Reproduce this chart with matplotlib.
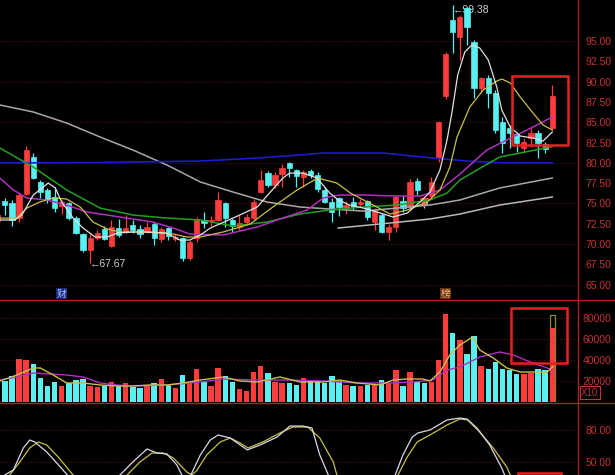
import matplotlib
matplotlib.use('Agg')
import matplotlib.pyplot as plt
from matplotlib.lines import Line2D
from matplotlib.patches import Rectangle

# ---------------- data ----------------
opens = [72.8, 75.3, 75.05, 73.2, 76.15, 80.7, 77.6, 76.65, 75.8, 74.7,
         75.05, 73.2, 71.2, 69.25, 70.7, 71.85, 69.75, 72.0, 71.5, 72.35,
         71.85, 71.5, 72.45, 70.6, 72.0, 70.6, 70.7, 68.3, 70.8, 72.9,
         72.8, 72.95, 75.05, 72.95, 72.05, 72.7, 73.2, 76.4, 78.75, 77.25,
         78.6, 80.0, 79.1, 78.25, 79.0, 78.5, 76.65, 75.2, 75.65, 74.45,
         75.2, 74.95, 75.3, 72.7, 73.55, 71.5, 72.1, 75.3, 74.55, 77.75,
         75.4, 75.9, 80.6, 88.2, 97.6, 95.5, 99.05, 94.9, 89.2, 90.45,
         88.6, 85.0, 84.3, 83.55, 81.8, 83.05, 83.65, 82.3, 84.3]
highs = [74.0, 75.7, 75.4, 76.3, 82.1, 81.2, 77.9, 76.9, 77.0, 75.4,
         75.2, 73.45, 71.35, 71.2, 71.7, 72.2, 73.0, 73.1, 73.6, 72.95,
         72.35, 72.7, 72.7, 72.1, 72.1, 71.2, 70.85, 70.5, 73.3, 73.95,
         73.4, 76.4, 75.2, 73.2, 73.6, 73.7, 75.6, 79.1, 79.0, 78.9,
         79.9, 80.1, 79.3, 79.1, 79.3, 78.9, 77.0, 75.7, 75.8, 75.3,
         75.8, 75.6, 75.4, 74.45, 73.8, 72.45, 76.0, 76.0, 78.0, 78.1,
         75.6, 78.25, 85.1, 93.6, 99.38, 98.2, 99.2, 95.1, 90.6, 90.8,
         89.0, 85.6, 84.65, 83.8, 82.9, 84.4, 84.05, 82.55, 89.6]
lows = [72.5, 73.6, 72.2, 72.7, 76.0, 78.0, 75.7, 75.05, 73.9, 73.7,
        72.95, 71.2, 69.0, 67.67, 70.5, 70.5, 69.6, 70.85, 71.35, 71.35,
        70.7, 71.35, 69.9, 70.25, 70.5, 70.35, 67.9, 68.05, 70.3, 72.0,
        72.2, 72.8, 72.1, 71.5, 71.7, 72.5, 72.95, 76.3, 77.0, 76.9,
        77.0, 78.2, 77.0, 77.0, 78.1, 76.4, 75.05, 72.7, 73.45, 73.7,
        74.2, 74.6, 72.9, 71.7, 71.35, 70.5, 71.5, 73.9, 74.3, 76.0,
        74.4, 75.65, 80.1, 87.9, 93.5, 92.65, 94.5, 88.0, 88.7, 86.75,
        83.7, 81.2, 81.8, 81.3, 81.35, 82.0, 80.6, 81.2, 84.05]
closes = [73.6, 74.8, 72.95, 76.0, 81.6, 78.1, 76.4, 75.5, 74.45, 75.2,
          73.2, 71.35, 69.25, 70.7, 71.35, 70.6, 72.1, 71.1, 72.0, 71.7,
          71.2, 72.1, 70.7, 71.85, 71.0, 70.85, 68.3, 70.25, 73.1, 72.6,
          73.0, 75.4, 73.2, 72.2, 72.6, 73.3, 75.2, 77.9, 77.25, 78.5,
          79.4, 79.35, 78.4, 78.9, 78.5, 76.8, 75.2, 73.95, 74.55, 74.8,
          74.6, 75.15, 73.3, 74.2, 71.5, 72.1, 75.8, 74.45, 77.6, 76.65,
          74.9, 77.6, 85.0, 93.4, 96.1, 97.95, 96.7, 89.2, 90.45, 88.6,
          84.0, 82.45, 83.65, 82.45, 82.55, 83.65, 82.45, 81.7, 88.2]
volumes = [22966, 20095, 24880, 41148, 40191, 36363, 22966, 15311, 19138, 15311,
           18182, 21052, 22009, 15311, 14354, 15311, 19138, 15311, 18182, 14354,
           13397, 15311, 18182, 22009, 16268, 13397, 25837, 18182, 31578, 19138,
           15311, 32535, 24880, 19138, 12440, 10526, 28707, 34448, 27750, 19138,
           18182, 18182, 16268, 22966, 21052, 20095, 18182, 24880, 20095, 16268,
           15311, 15311, 16268, 16268, 21052, 18182, 30621, 15311, 28707, 19138,
           18182, 19138, 40191, 84207, 66026, 59328, 45931, 63155, 34448, 31578,
           38276, 31578, 30621, 26793, 26793, 27750, 31578, 30621, 70813]
last_vol_projected = 83250

# moving averages of price (x = candle index, y = price)
ma5_x = [0.3, 2.4, 3.4, 5.0, 7.1, 8.1, 9.0, 10.6, 12.0, 13.7, 15.4, 16.8, 19.0, 21.4,
         23.8, 25.6, 27.0, 28.5, 29.9, 33.1, 36.5, 38.6, 40.1, 41.1, 42.9, 44.9,
         46.7, 47.9, 49.5, 51.4, 53.8, 55.6, 57.6, 59.4, 60.8, 62.2, 63.2, 63.9,
         64.7, 65.7, 66.7, 67.8, 69.0, 70.2, 70.9, 72.1, 73.5, 75.3, 76.7, 78.0]
ma5_y = [72.96, 72.96, 73.57, 76.03, 77.51, 76.90, 75.17, 73.20, 71.97, 70.86, 70.86,
         71.35, 71.48, 71.48, 71.35, 70.49, 70.49, 71.11, 71.97, 73.20, 74.56, 76.65,
         78.13, 78.74, 78.74, 78.13, 76.28, 75.42, 74.80, 74.43, 73.82, 73.33, 73.82,
         75.17, 76.40, 79.11, 82.81, 86.26, 90.81, 93.65, 94.51, 94.14, 92.66, 89.33,
         86.50, 84.41, 83.30, 83.05, 82.68, 83.79]
ma10_x = [0.3, 2.7, 4.1, 5.9, 7.8, 9.7, 11.6, 13.4, 15.4, 17.2, 20.0, 22.8, 24.7,
          26.6, 28.5, 31.7, 35.5, 38.7, 42.1, 45.0, 47.7, 49.6, 52.8, 55.2, 57.6,
          60.4, 62.2, 63.6, 64.6, 66.4, 68.3, 70.2, 70.9, 72.1, 73.5, 75.3, 76.7, 78.0]
ma10_y = [73.20, 73.20, 74.43, 75.17, 75.67, 75.54, 74.56, 72.71, 71.85, 71.48, 71.48,
          71.35, 71.23, 70.86, 70.86, 71.48, 72.46, 74.56, 76.65, 78.13, 77.51, 76.28,
          74.80, 73.69, 74.19, 75.17, 76.65, 79.48, 83.18, 86.87, 88.97, 90.07, 90.32,
          89.83, 88.10, 86.13, 84.66, 84.04]
ma20_x = [0.3, 2.2, 4.1, 6.9, 9.7, 12.6, 15.4, 19.0, 21.8, 24.7, 27.0, 31.7, 36.5,
          40.1, 43.5, 45.8, 48.1, 51.4, 56.2, 59.4, 62.2, 65.0, 68.8, 71.6, 75.3, 78.0]
ma20_y = [78.13, 76.65, 75.67, 75.42, 74.80, 73.94, 73.57, 73.08, 72.71, 71.97, 71.23,
          71.11, 72.09, 73.20, 74.19, 75.67, 76.03, 76.03, 75.91, 75.91, 76.65, 78.60,
          81.58, 82.81, 84.41, 85.64]
ma30_x = [0.3, 5.0, 9.7, 14.4, 19.0, 23.8, 28.5, 33.1, 37.9, 42.5, 46.7, 51.4, 56.2,
          60.8, 63.2, 65.0, 67.4, 70.6, 73.5, 76.3, 78.0]
ma30_y = [81.82, 79.48, 76.65, 74.43, 73.57, 73.20, 72.96, 72.22, 72.71, 73.69, 74.19,
          74.56, 74.80, 75.42, 76.28, 77.88, 79.11, 80.71, 81.21, 81.70, 82.00]
ma60_x = [0.3, 5.0, 9.7, 14.4, 19.0, 23.8, 28.5, 33.1, 37.9, 42.5, 46.7, 51.4, 56.2,
          60.8, 65.0, 70.6, 78.0]
ma60_y = [87.12, 86.26, 84.90, 83.18, 81.58, 79.73, 77.64, 76.40, 75.17, 74.56, 74.31,
          74.06, 74.43, 74.80, 75.42, 76.90, 78.13]
ma120_x = [0.3, 14.4, 28.5, 36.5, 42.5, 45.8, 54.2, 61.2, 66.0, 71.6, 78.0]
ma120_y = [79.98, 80.04, 80.22, 80.59, 80.96, 81.21, 81.21, 80.59, 80.22, 79.98, 79.98]
ma250_x = [47.9, 55.2, 60.8, 65.0, 70.6, 78.0]
ma250_y = [71.97, 72.59, 73.08, 73.69, 74.80, 75.79]

# volume moving averages
vma5_x = [0.3, 2.7, 5.0, 6.0, 7.8, 9.7, 12.0, 14.4, 16.8, 19.0, 21.4, 23.8, 26.1, 28.5,
          31.7, 34.1, 36.5, 39.7, 42.5, 45.8, 48.1, 50.5, 53.8, 55.6, 57.6, 59.8, 60.8,
          62.2, 63.6, 65.0, 66.8, 67.8, 69.7, 71.6, 73.5, 75.3, 77.3, 78.1]
vma5_y = [20095, 25836, 32535, 32535, 25836, 18182, 18182, 16268, 15311, 15311, 16268,
          16268, 18182, 21052, 23923, 20095, 19138, 23923, 19138, 19138, 21052, 18182,
          16268, 21052, 22009, 22009, 20095, 28707, 44974, 54543, 62199, 49759, 42104,
          32535, 28707, 28707, 28707, 34000]
vma10_x = [0.3, 2.7, 5.0, 7.4, 9.7, 12.0, 14.4, 16.8, 19.0, 23.8, 28.5, 31.7, 36.5,
           41.1, 45.8, 50.5, 55.2, 58.4, 61.2, 63.2, 65.0, 67.8, 70.6, 72.5, 74.9,
           77.3, 78.1]
vma10_y = [21052, 23923, 27750, 26793, 25836, 23923, 18182, 16268, 15311, 16268, 19138,
           22009, 21052, 21052, 20095, 18182, 18182, 19138, 21052, 30621, 33492, 43061,
           47845, 44974, 38276, 32535, 30621]

# KDJ
k_x = [0.3, 1.0, 2.2, 3.6, 4.5, 5.2, 6.9, 8.8, 9.8, 11.5, 15.5, 17.2, 19.0, 21.0, 22.4,
       23.8, 25.2, 25.9, 26.8, 27.3, 28.5, 29.9, 31.0, 32.7, 35.1, 36.9, 39.3, 41.1,
       42.9, 44.2, 45.3, 46.5, 48.5, 54.5, 55.9, 57.0, 58.3, 59.1, 60.8, 63.2, 65.0,
       66.0, 67.4, 69.2, 70.9, 71.3, 73.5, 78.0]
k_y = [32, 37.8, 42.5, 63.1, 70.6, 68.8, 59.4, 45.3, 37.8, 26, 26, 37.8, 50.0, 62.2, 58.4,
       57.5, 47.2, 37.8, 33, 39.7, 56.6, 70.6, 75.3, 72.5, 61.3, 65.9, 73.4, 83.7, 83.7,
       81.9, 56.6, 37.8, 22, 22, 37.8, 56.6, 73.4, 77.2, 80.0, 89.4, 91.2, 90.3, 81.9,
       65.9, 44.4, 37.8, 22, 20]
d_x = [0.3, 1.7, 3.1, 4.5, 5.7, 6.9, 8.5, 10.6, 12.5, 16.5, 18.2, 20.0, 21.7, 23.3,
       24.7, 26.6, 27.3, 28.0, 29.4, 31.3, 32.7, 34.1, 35.2, 37.3, 39.7, 41.5, 43.6,
       45.3, 47.2, 47.7, 50.0, 54.5, 56.3, 57.6, 59.0, 60.8, 63.2, 65.0, 66.1, 67.8,
       69.7, 71.6, 72.1, 74.5, 78.0]
d_y = [30, 37.8, 50.0, 63.1, 68.8, 65.9, 54.7, 37.8, 28, 28, 37.8, 50.0, 58.4, 58.4,
       53.8, 40.6, 37.8, 42, 56.6, 68.8, 72.5, 67.8, 63.1, 68.8, 77.2, 82.8, 82.8, 72.5,
       50.0, 37.8, 26, 26, 37.8, 54.7, 68.8, 75.3, 84.7, 90.3, 89.4, 78.1, 63.1, 45.3,
       37.8, 25, 22]

price_ticks = [65.0, 67.5, 70.0, 72.5, 75.0, 77.5, 80.0, 82.5, 85.0, 87.5, 90.0, 92.5, 95.0]
price_grid = [65, 70, 75, 80, 85, 90, 95]
vol_ticks = [20000, 40000, 60000, 80000]
kdj_ticks = [50.0, 80.0]
low_label_idx, low_label_val = 13, 67.67
high_label_idx, high_label_val = 64, 99.38
signal_idx, signal_price = [60], [75.2]
event_labels = [(9, '财', '#a9c8ff', '#1a2a80'), (63, '榜', '#f0c080', '#6a3010')]

# ---------------- style ----------------
RED = '#ff3b3b'
CYAN = '#58f0f0'
AXRED = '#c83030'
GRID = '#5c1010'
W, H = 615, 475
plt.rcParams['font.family'] = ['Liberation Sans', 'DejaVu Sans']

fig = plt.figure(figsize=(W / 100, H / 100), dpi=100, facecolor='black')


def ax_at(x0, y0, x1, y1):
    ax = fig.add_axes([x0 / W, 1 - y1 / H, (x1 - x0) / W, (y1 - y0) / H])
    ax.set_facecolor('black')
    for s in ax.spines.values():
        s.set_visible(False)
    ax.set_xlim(0.32, 81.48)
    ax.set_xticks([])
    ax.yaxis.tick_right()
    ax.tick_params(axis='y', length=0, pad=25, labelcolor=AXRED, labelsize=7.5)
    return ax


ax_p = ax_at(0, 0, 577, 299)
ax_v = ax_at(0, 300, 577, 402)
ax_k = ax_at(0, 403, 577, 475)

ax_p.set_ylim(63.23, 100.05)
ax_v.set_ylim(0, 97600)
ax_k.set_ylim(37.8, 105.3)

# ticks and grids
ax_p.set_yticks(price_ticks)
ax_p.set_yticklabels(['%.2f' % t for t in price_ticks])
ax_v.set_yticks(vol_ticks)
ax_v.set_yticklabels(['%d' % t for t in vol_ticks])
ax_k.set_yticks(kdj_ticks)
ax_k.set_yticklabels(['%.2f' % t for t in kdj_ticks])
for ax in (ax_p, ax_v, ax_k):
    plt.setp(ax.get_yticklabels(), ha='right')
for g in price_grid:
    ax_p.axhline(g, color=GRID, lw=0.8, ls=(0, (1, 2)), zorder=0)
for g in vol_ticks:
    ax_v.axhline(g, color=GRID, lw=0.8, ls=(0, (1, 2)), zorder=0)
for g in kdj_ticks:
    ax_k.axhline(g, color=GRID, lw=0.8, ls=(0, (1, 2)), zorder=0)

# labels for extremes (beneath candles)
ax_p.annotate('\u219067.67', (low_label_idx, low_label_val), xytext=(0, -1),
              textcoords='offset points', color='#d0d0d0', fontsize=7.5,
              ha='left', va='center', zorder=1)
ax_p.annotate('\u219099.38', (high_label_idx, high_label_val), xytext=(0, -3),
              textcoords='offset points', color='#d0d0d0', fontsize=7.5,
              ha='left', va='center', zorder=1)

# candles
w = 0.74
for i in range(len(opens)):
    o, h, l, c = opens[i], highs[i], lows[i], closes[i]
    col = RED if c >= o else CYAN
    ax_p.vlines(i, l, h, color=col, lw=0.9, zorder=3)
    bot, top = min(o, c), max(o, c)
    ax_p.add_patch(Rectangle((i - w / 2, bot), w, max(top - bot, 0.08),
                             facecolor=col, edgecolor=col, lw=0.5, zorder=4))
    ax_v.bar(i, volumes[i], width=0.76, color=col, zorder=3)
ax_v.bar(len(volumes) - 1, last_vol_projected, width=0.76, facecolor='none',
         edgecolor='#8a8a30', lw=0.9, zorder=2)
ax_p.scatter(signal_idx, signal_price, marker='v', s=30, color=RED, zorder=5)

# moving averages
ax_p.plot(ma60_x, ma60_y, color='#a8a8a8', lw=1.1, zorder=5)
ax_p.plot(ma250_x, ma250_y, color='#b8b8b8', lw=1.1, zorder=5)
ax_p.plot(ma120_x, ma120_y, color='#1a1ad0', lw=1.2, zorder=5)
ax_p.plot(ma30_x, ma30_y, color='#22a022', lw=1.1, zorder=5)
ax_p.plot(ma20_x, ma20_y, color='#b22ec0', lw=1.1, zorder=5)
ax_p.plot(ma10_x, ma10_y, color='#c8c048', lw=0.9, zorder=6)
ax_p.plot(ma5_x, ma5_y, color='#e0e0e0', lw=0.9, zorder=6)

ax_v.plot(vma10_x, vma10_y, color='#b22ec0', lw=1.0, zorder=5)
ax_v.plot(vma5_x, vma5_y, color='#c8c048', lw=1.0, zorder=5)

ax_k.plot(d_x, d_y, color='#c8c048', lw=0.9, zorder=5)
ax_k.plot(k_x, k_y, color='#d8d8e8', lw=0.9, zorder=5)

# event labels at the bottom of the price panel
for idx, txt, fc, bc in event_labels:
    ax_p.text(idx, 63.9, txt, family=['Noto Sans CJK SC', 'DejaVu Sans'],
              fontsize=7, color=fc, ha='center', va='center', zorder=7,
              bbox=dict(boxstyle='square,pad=0.05', fc=bc, ec='none'))

# red highlight boxes
box_x0, box_x1 = 72.33, 80.2
ax_p.add_patch(Rectangle((box_x0, 82.19), box_x1 - box_x0, 90.69 - 82.19,
                         fill=False, edgecolor='#e82020', lw=1.8, zorder=8))
ax_v.add_patch(Rectangle((72.2, 37320), 80.1 - 72.2, 89950 - 37320,
                         fill=False, edgecolor='#e82020', lw=1.8, zorder=8))
ax_k.add_patch(Rectangle((73.2, 20), 79.2 - 73.2, 39.7 - 20,
                         fill=False, edgecolor='#e82020', lw=1.8, zorder=8, clip_on=True))

# X10 label
ax_v.text(1.007, 0.04, 'X10', transform=ax_v.transAxes, color=AXRED, fontsize=7,
          ha='left', va='bottom',
          bbox=dict(boxstyle='square,pad=0.15', fc='black', ec=AXRED, lw=0.8))

# panel separators
LC = '#b02020'
fig.add_artist(Line2D([0, 1], [1 - 299.5 / H] * 2, color=LC, lw=1.0))
fig.add_artist(Line2D([0, 1], [1 - 402.5 / H] * 2, color=LC, lw=1.0))
fig.add_artist(Line2D([577.5 / W] * 2, [0, 1], color=LC, lw=1.0))

fig.savefig('out.png', dpi=100, facecolor='black')
